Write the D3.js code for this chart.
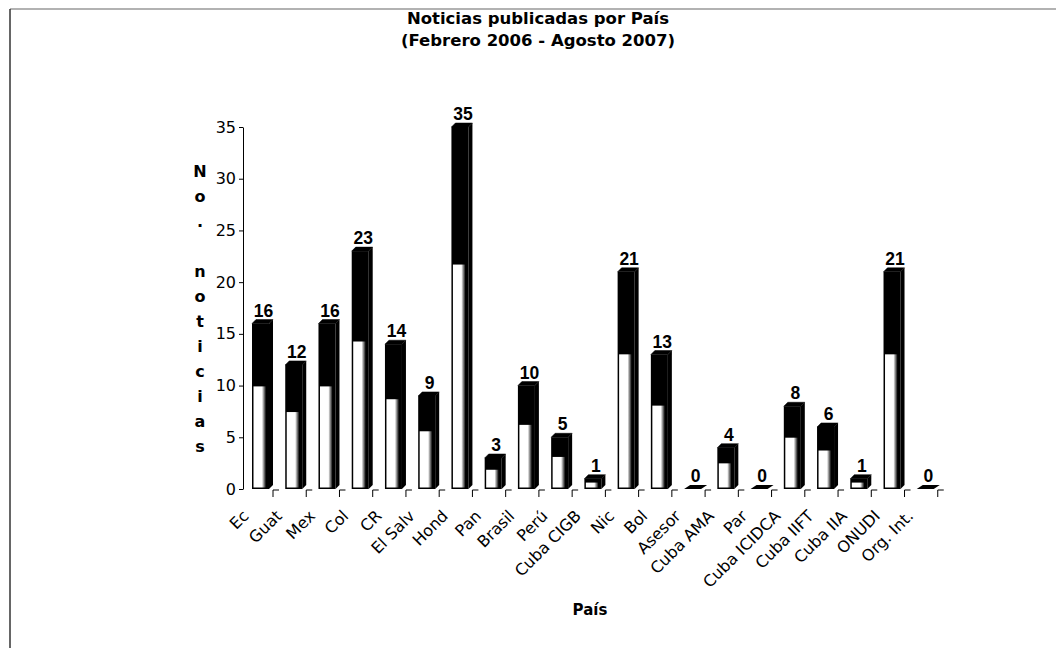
<!DOCTYPE html>
<html><head><meta charset="utf-8">
<script src="https://cdn.jsdelivr.net/npm/d3@7"></script>
<style>body{margin:0;background:#fff}</style>
</head><body><svg id="c" width="1056" height="648"></svg>
<script>
const categories = ["Ec","Guat","Mex","Col","CR","El Salv","Hond","Pan","Brasil","Perú","Cuba CIGB","Nic","Bol","Asesor","Cuba AMA","Par","Cuba ICIDCA","Cuba IIFT","Cuba IIA","ONUDI","Org. Int."];
const values = [16,12,16,23,14,9,35,3,10,5,1,21,13,0,4,0,8,6,1,21,0];
const yTicks = [0,5,10,15,20,25,30,35];
const titleLines = ["Noticias publicadas por País","(Febrero 2006 - Agosto 2007)"];
const yLabel = "No. noticias";
const xLabel = "País";

const data = categories.map((c,i)=>({c, v: values[i]}));
const svg = d3.select("#c");
const FONT = "DejaVu Sans, Verdana, sans-serif";

// frame
svg.append("line").attr("x1",10).attr("x2",1056).attr("y1",9).attr("y2",9).attr("stroke","#666").attr("stroke-width",1.2);
svg.append("line").attr("x1",10).attr("x2",10).attr("y1",9).attr("y2",648).attr("stroke","#333").attr("stroke-width",1.5);

const defs = svg.append("defs");
const g1 = defs.append("linearGradient").attr("id","fg").attr("x1","0").attr("x2","1").attr("y1","0").attr("y2","0");
[[0,"#fff"],[0.6,"#fff"],[0.8,"#555"],[0.9,"#000"],[1,"#000"]].forEach(([o,c])=>g1.append("stop").attr("offset",o).attr("stop-color",c));

const x = d3.scaleBand().domain(categories).range([245, 943]);
const y = d3.scaleLinear().domain([0,35]).range([489,127]);

// title
svg.append("g").selectAll("text").data(titleLines).join("text")
  .attr("x",538).attr("y",(d,i)=>24+i*22)
  .attr("text-anchor","middle")
  .style("font-family",FONT).style("font-weight","bold").style("font-size","16.5px")
  .text(d=>d);

// y axis
const yAxis = svg.append("g").attr("transform","translate(243,0)")
  .call(d3.axisLeft(y).tickValues(yTicks).tickSize(4).tickSizeOuter(0).tickPadding(3));
yAxis.select(".domain").attr("stroke","#000");
yAxis.selectAll("text").style("font-family",FONT).style("font-size","16px").attr("fill","#000");

// y label stacked letters
svg.append("g").selectAll("text").data(yLabel.split("")).join("text")
  .attr("x",200).attr("y",(d,i)=>177+i*25).attr("text-anchor","middle")
  .style("font-family",FONT).style("font-weight","bold").style("font-size","16px")
  .text(d=>d);

// x ticks
const tg = svg.append("g");
categories.forEach(c=>{
  const tx = x(c)+28;
  tg.append("line").attr("x1",tx).attr("x2",tx).attr("y1",490).attr("y2",497).attr("stroke","#000");
  tg.append("line").attr("x1",tx).attr("x2",tx+6).attr("y1",490).attr("y2",490).attr("stroke","#000");
});

// bars
const w = 17, dp = 4, base = y(0);
const bars = svg.append("g");
data.forEach(d=>{
  const x0 = x(d.c)+7;
  const g = bars.append("g");
  if (d.v === 0) {
    g.append("polygon").attr("points",[[x0,base],[x0+dp+2,base-dp],[x0+w+dp+2,base-dp],[x0+w,base]].join(" ")).attr("fill","#000");
  } else {
    const yt = y(d.v), yw = y(d.v*0.62);
    g.append("rect").attr("x",x0).attr("y",yt).attr("width",w).attr("height",base-yt).attr("fill","#000");
    g.append("rect").attr("x",x0+1.5).attr("y",yw).attr("width",w-3).attr("height",base-yw-1.5).attr("fill","url(#fg)");
    g.append("polygon").attr("points",[[x0+w,base],[x0+w+dp,base-dp],[x0+w+dp,yt-dp],[x0+w,yt]].join(" ")).attr("fill","#000");
    g.append("polygon").attr("points",[[x0,yt],[x0+dp,yt-dp],[x0+w+dp,yt-dp],[x0+w,yt]].join(" ")).attr("fill","#000").attr("stroke","#000").attr("stroke-width",0.5);
  }
  g.append("text").attr("x",x0+(w+dp)/2+1).attr("y",(d.v===0? base-dp : y(d.v)-dp)-3)
    .attr("text-anchor","middle")
    .style("font-family","Liberation Sans, Arial, sans-serif").style("font-weight","bold").style("font-size","17.5px")
    .text(d.v);
});

// x labels
svg.append("g").selectAll("text").data(categories).join("text")
  .attr("transform",c=>`translate(${x(c)+x.bandwidth()/2-12},517) rotate(-45)`)
  .attr("text-anchor","end")
  .style("font-family",FONT).style("font-size","16px")
  .text(c=>c);

// x title
svg.append("text").attr("x",590).attr("y",615).attr("text-anchor","middle")
  .style("font-family",FONT).style("font-weight","bold").style("font-size","15px")
  .text(xLabel);
</script></body></html>
